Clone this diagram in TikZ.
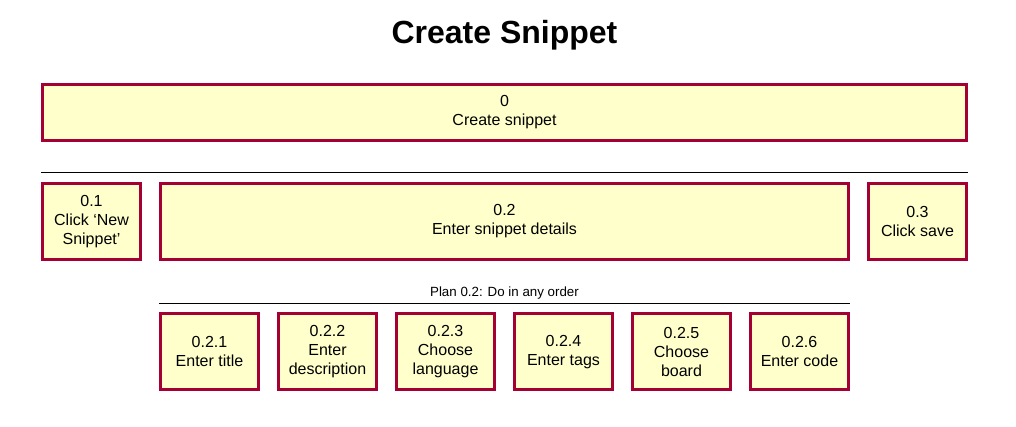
\documentclass[tikz,border=0pt]{standalone}
\usepackage{fontspec}
\setmainfont{Liberation Sans}
\usetikzlibrary{positioning}
\definecolor{HTARed}{HTML}{A50034}
\definecolor{HTAFill}{HTML}{FFFFCC}

\begin{document}
\begin{tikzpicture}[x=0.75pt, y=-0.75pt, node distance=12.75pt,
    taskbox/.style={draw=HTARed, fill=HTAFill, line width=2.25pt, align=center,
      inner sep=2pt, minimum width=73.5pt, minimum height=57pt,
      font=\fontsize{12}{14.3}\selectfont},
    planline/.style={draw=black, line width=0.75pt}]
  \useasboundingbox (0,0) rectangle (1016,427);
  \node[font=\fontsize{24}{28}\selectfont\bfseries, anchor=base] (title) at (504.5,44) {Create Snippet};
  \node[taskbox, minimum width=693pt, minimum height=42pt] (zero) at (504.5,112.5) {0\\Create snippet};
  \node[taskbox, below right=30pt and 0pt of zero.south west] (one) {0.1\\Click ‘New\\Snippet’};
  \node[taskbox, minimum width=516pt, right=of one] (two) {0.2\\Enter snippet details};
  \node[taskbox, right=of two] (three) {0.3\\Click save};
  \draw[planline] ([yshift=6.75pt]one.north west) -- ([yshift=6.75pt]three.north east);
  % plan 0.2 and its subtasks
  \node[taskbox, below right=38.5pt and 0pt of two.south west] (twoA) {0.2.1\\Enter title};
  \node[taskbox, right=of twoA] (twoB) {0.2.2\\Enter\\description};
  \node[taskbox, right=of twoB] (twoC) {0.2.3\\Choose\\language};
  \node[taskbox, right=of twoC] (twoD) {0.2.4\\Enter tags};
  \node[taskbox, right=of twoD] (twoE) {0.2.5\\Choose\\board};
  \node[taskbox, right=of twoE] (twoF) {0.2.6\\Enter code};
  \draw[planline] ([yshift=6.75pt]twoA.north west) -- ([yshift=6.75pt]twoF.north east);
  \node[font=\fontsize{10}{12}\selectfont, inner sep=0pt, anchor=base] (plan)
    at ([yshift=11.6pt]twoA.north -| two.south) {Plan 0.2: Do in any order};
\end{tikzpicture}
\end{document}
